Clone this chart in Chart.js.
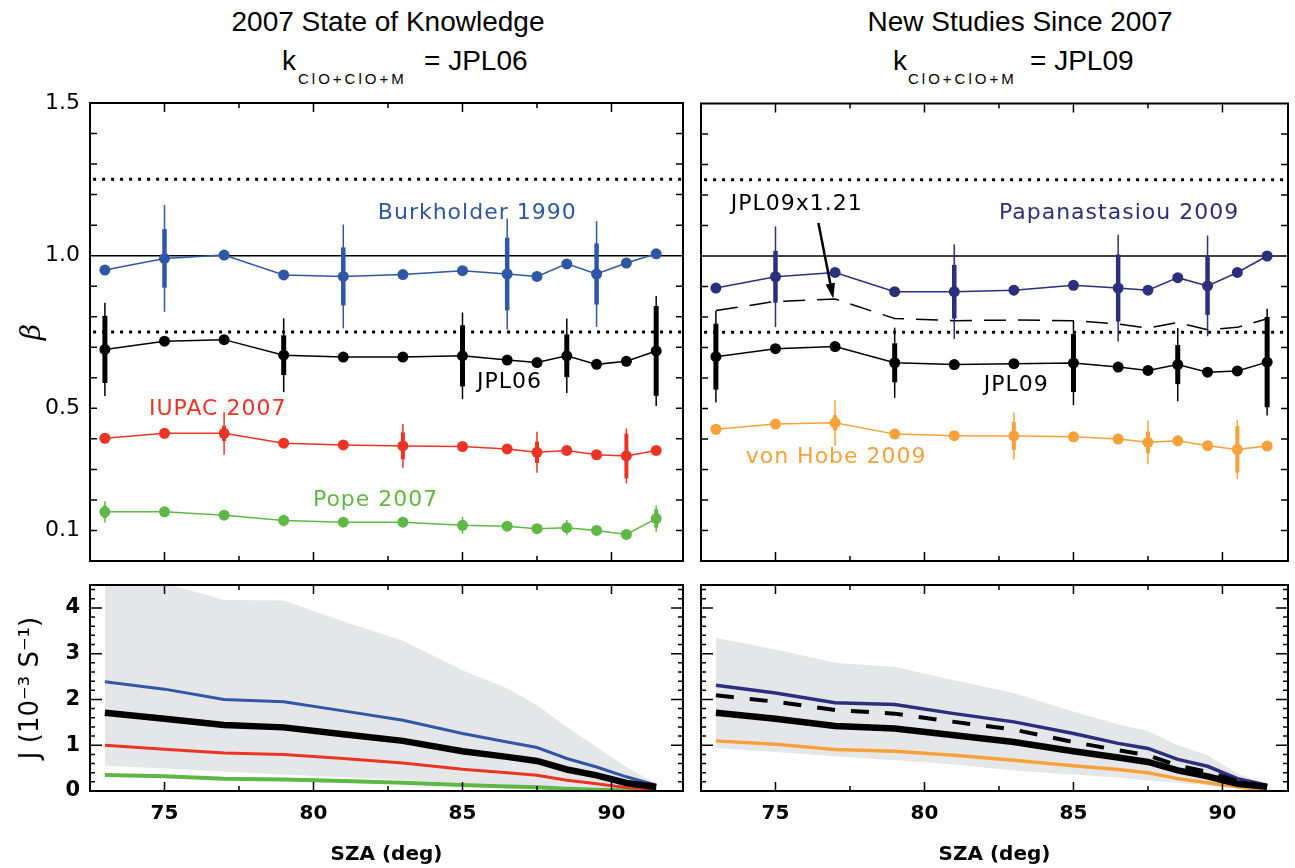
<!DOCTYPE html>
<html>
<head>
<meta charset="utf-8">
<script src="https://cdn.jsdelivr.net/npm/chart.js@4.4.0/dist/chart.umd.min.js"></script>
<style>
body { margin: 0; background: #fff; width: 1295px; height: 868px; position: relative; overflow: hidden; font-family: "Liberation Sans", sans-serif; }
canvas { position: absolute; }
.t1 { position: absolute; top: 5px; font-size: 28px; line-height: 34px; white-space: nowrap; transform: translateX(-50%); }
.k { position: absolute; top: 44px; font-size: 28px; line-height: 34px; white-space: nowrap; }
.sub { position: absolute; top: 70px; font-size: 15px; line-height: 18px; letter-spacing: 3px; white-space: nowrap; }
</style>
</head>
<body>
<div class="t1" style="left:388px">2007 State of Knowledge</div>
<div class="k" style="left:282px">k</div><div class="sub" style="left:298px">ClO+ClO+M</div><div class="k" style="left:424px">= JPL06</div>
<div class="t1" style="left:1020px">New Studies Since 2007</div>
<div class="k" style="left:893px">k</div><div class="sub" style="left:908px">ClO+ClO+M</div><div class="k" style="left:1030px">= JPL09</div>

<canvas id="tl" width="693" height="483" style="left:0;top:85px"></canvas>
<canvas id="tr" width="602" height="470" style="left:693px;top:98px"></canvas>
<canvas id="bl" width="693" height="288" style="left:0;top:580px"></canvas>
<canvas id="br" width="602" height="288" style="left:693px;top:580px"></canvas>

<script>
// solar zenith angles shared by every series
const sza = [73, 75, 77, 79, 81, 83, 85, 86.5, 87.5, 88.5, 89.5, 90.5, 91.5];

// beta, left panel (JPL06 kinetics)
const bBurkholder = [0.953, 0.991, 1.002, 0.937, 0.932, 0.938, 0.951, 0.940, 0.932, 0.973, 0.940, 0.976, 1.006];
const bJPL06 = [0.693, 0.720, 0.725, 0.674, 0.668, 0.668, 0.672, 0.658, 0.650, 0.672, 0.644, 0.654, 0.688];
const bIUPAC = [0.402, 0.418, 0.418, 0.386, 0.380, 0.377, 0.375, 0.367, 0.356, 0.362, 0.348, 0.344, 0.362];
const bPope = [0.161, 0.161, 0.150, 0.133, 0.127, 0.127, 0.117, 0.114, 0.106, 0.109, 0.100, 0.087, 0.139];

// beta, right panel (JPL09 kinetics)
const bPapanastasiou = [0.895, 0.932, 0.946, 0.883, 0.883, 0.888, 0.904, 0.895, 0.888, 0.929, 0.902, 0.946, 1.000];
const bJPL09x121 = [0.821, 0.851, 0.859, 0.795, 0.788, 0.790, 0.788, 0.777, 0.764, 0.782, 0.758, 0.766, 0.794];
const bJPL09 = [0.670, 0.696, 0.703, 0.650, 0.644, 0.647, 0.649, 0.636, 0.625, 0.644, 0.619, 0.623, 0.652];
const bVonHobe = [0.432, 0.449, 0.453, 0.416, 0.411, 0.410, 0.407, 0.400, 0.389, 0.394, 0.378, 0.366, 0.377];

// error bar half widths (thin = outer, thick = inner), null = no bar
const eBurkholderThin = [null, 0.175, null, null, 0.170, null, null, 0.182, null, null, 0.173, null, null];
const eBurkholderThick = [null, 0.096, null, null, 0.095, null, null, 0.119, null, null, 0.100, null, null];
const eJPL06Thin = [0.153, null, null, 0.121, null, null, 0.142, null, null, 0.122, null, null, 0.180];
const eJPL06Thick = [0.110, null, null, 0.065, null, null, 0.100, null, null, 0.070, null, null, 0.147];
const eIUPACThin = [null, null, 0.070, null, null, 0.072, null, null, 0.067, null, null, 0.090, null];
const eIUPACThick = [null, null, 0.025, null, null, 0.044, null, null, 0.035, null, null, 0.073, null];
const ePopeThin = [0.035, null, null, 0.020, null, null, 0.028, null, null, 0.025, null, null, 0.043];
const ePopeThick = [0.020, null, null, 0.012, null, null, 0.015, null, null, 0.015, null, null, 0.030];
const ePapanastasiouThin = [null, 0.165, null, null, 0.155, null, null, 0.175, null, null, 0.165, null, null];
const ePapanastasiouThick = [null, 0.085, null, null, 0.088, null, null, 0.110, null, null, 0.095, null, null];
const eJPL09Thin = [0.150, null, null, 0.115, null, null, 0.138, null, null, 0.120, null, null, 0.175];
const eJPL09Thick = [0.108, null, null, 0.064, null, null, 0.095, null, null, 0.064, null, null, 0.148];
const eVonHobeThin = [null, null, 0.074, null, null, 0.077, null, null, 0.072, null, null, 0.097, null];
const eVonHobeThick = [null, null, 0.025, null, null, 0.046, null, null, 0.035, null, null, 0.076, null];

// J (10^-3 s^-1), left panel
const jBandHiL = [4.90, 4.54, 4.17, 4.16, 3.70, 3.28, 2.64, 2.24, 1.875, 1.40, 0.96, 0.525, 0.16];
const jBandLoL = [0.55, 0.49, 0.42, 0.36, 0.30, 0.24, 0.17, 0.13, 0.10, 0.07, 0.05, 0.03, 0.01];
const jBurkholder = [2.385, 2.225, 2.00, 1.95, 1.75, 1.547, 1.255, 1.07, 0.95, 0.71, 0.525, 0.31, 0.125];
const jJPL06 = [1.71, 1.58, 1.44, 1.39, 1.24, 1.095, 0.87, 0.745, 0.657, 0.47, 0.343, 0.175, 0.088];
const jIUPAC = [1.00, 0.91, 0.83, 0.795, 0.71, 0.61, 0.475, 0.40, 0.343, 0.234, 0.16, 0.074, 0.037];
const jPope = [0.35, 0.32, 0.27, 0.25, 0.22, 0.18, 0.13, 0.10, 0.08, 0.05, 0.03, 0.015, 0.01];

// J, right panel
const jBandHiR = [3.35, 3.09, 2.80, 2.71, 2.42, 2.14, 1.73, 1.46, 1.31, 1.00, 0.78, 0.38, 0.147];
const jBandLoR = [0.94, 0.85, 0.76, 0.67, 0.58, 0.45, 0.36, 0.29, 0.23, 0.18, 0.125, 0.05, 0.02];
const jPapanastasiou = [2.31, 2.14, 1.93, 1.89, 1.69, 1.51, 1.255, 1.04, 0.93, 0.69, 0.54, 0.27, 0.125];
const jJPL09x121 = [2.09, 1.95, 1.77, 1.69, 1.51, 1.34, 1.07, 0.89, 0.78, 0.56, 0.415, 0.22, 0.09];
const jJPL09 = [1.71, 1.58, 1.42, 1.365, 1.22, 1.07, 0.87, 0.73, 0.635, 0.45, 0.32, 0.16, 0.09];
const jVonHobe = [1.095, 1.02, 0.905, 0.87, 0.78, 0.67, 0.55, 0.47, 0.40, 0.27, 0.18, 0.09, 0.015];

// axis ticks
const xLabelTicks = [75, 80, 85, 90];
const xMinorTicks = [77.5, 82.5, 87.5];
const betaLabelTicks = [0.1, 0.5, 1.0, 1.5];
const betaMinorTicks = [0.1, 0.2, 0.3, 0.4, 0.5, 0.6, 0.7, 0.8, 0.9, 1.1, 1.2, 1.3, 1.4];
const jLabelTicks = [0, 1, 2, 3, 4];
const jMajorTicks = [1, 2, 3, 4];
const jMinorTicks = [0.2, 0.4, 0.6, 0.8, 1.2, 1.4, 1.6, 1.8, 2.2, 2.4, 2.6, 2.8, 3.2, 3.4, 3.6, 3.8, 4.2, 4.4];
const refLevels = [1.25, 0.75];

const BLUE = '#2f57a5', RED = '#eb3424', GREEN = '#5fb845', NAVY = '#2b2f7e', ORANGE = '#f7a13a', BAND = '#e5e6e8';
const LABEL_FONT = '22px "DejaVu Sans"';

const pts = (ys) => sza.map((x, i) => ({x: x, y: ys[i]}));

/** frame round the plot area with inward tick marks on all four sides */
const framePlugin = {
	id: 'frame',
	afterDraw(chart, args, opts) {
		const {ctx, chartArea: a, scales: {x, y}} = chart;
		ctx.save();
		ctx.strokeStyle = '#000';
		ctx.lineWidth = 1.5;
		ctx.beginPath();
		opts.xTicks.forEach(([v, len]) => {
			const px = x.getPixelForValue(v);
			ctx.moveTo(px, a.bottom); ctx.lineTo(px, a.bottom - len);
			ctx.moveTo(px, a.top); ctx.lineTo(px, a.top + len);
		});
		opts.yTicks.forEach(([v, len]) => {
			const py = y.getPixelForValue(v);
			ctx.moveTo(a.left, py); ctx.lineTo(a.left + len, py);
			ctx.moveTo(a.right, py); ctx.lineTo(a.right - len, py);
		});
		ctx.stroke();
		ctx.lineWidth = 2;
		ctx.strokeRect(a.left, a.top, a.right - a.left, a.bottom - a.top);
		ctx.restore();
	}
};

/** thin and thick vertical error bars for any dataset carrying errThin / errThick */
const errorPlugin = {
	id: 'errorBars',
	afterDatasetsDraw(chart) {
		const {ctx, scales: {x, y}} = chart;
		ctx.save();
		ctx.lineCap = 'butt';
		chart.data.datasets.forEach(ds => {
			if (!ds.errThin) return;
			ctx.strokeStyle = ds.borderColor;
			ds.data.forEach((p, i) => {
				const px = x.getPixelForValue(p.x);
				[[ds.errThin[i], 1.5], [ds.errThick[i], ds.thickWidth]].forEach(([e, w]) => {
					if (e == null) return;
					ctx.lineWidth = w;
					ctx.beginPath();
					ctx.moveTo(px, y.getPixelForValue(p.y - e));
					ctx.lineTo(px, y.getPixelForValue(p.y + e));
					ctx.stroke();
				});
			});
		});
		ctx.restore();
	}
};

/** series names written inside the panels, plus the arrow */
const notesPlugin = {
	id: 'notes',
	afterDraw(chart, args, opts) {
		const {ctx, scales: {x, y}} = chart;
		ctx.save();
		ctx.font = LABEL_FONT;
		ctx.letterSpacing = '1px';
		ctx.textAlign = 'left';
		ctx.textBaseline = 'middle';
		(opts.items || []).forEach(n => {
			ctx.fillStyle = n.color;
			ctx.fillText(n.text, x.getPixelForValue(n.x), y.getPixelForValue(n.y));
		});
		if (opts.arrow) {
			const ar = opts.arrow;
			const x0 = x.getPixelForValue(ar.from[0]), y0 = y.getPixelForValue(ar.from[1]);
			const x1 = x.getPixelForValue(ar.to[0]), y1 = y.getPixelForValue(ar.to[1]);
			const ang = Math.atan2(y1 - y0, x1 - x0);
			ctx.strokeStyle = '#000'; ctx.fillStyle = '#000'; ctx.lineWidth = 2.5;
			ctx.beginPath(); ctx.moveTo(x0, y0);
			ctx.lineTo(x1 - 12 * Math.cos(ang), y1 - 12 * Math.sin(ang)); ctx.stroke();
			ctx.beginPath(); ctx.moveTo(x1, y1);
			ctx.lineTo(x1 - 16 * Math.cos(ang - 0.3), y1 - 16 * Math.sin(ang - 0.3));
			ctx.lineTo(x1 - 16 * Math.cos(ang + 0.3), y1 - 16 * Math.sin(ang + 0.3));
			ctx.closePath(); ctx.fill();
		}
		ctx.restore();
	}
};

function betaSeries(ys, color, thin, thick, thickW) {
	return {data: pts(ys), borderColor: color, backgroundColor: color, borderWidth: 1.5,
		pointRadius: 5.5, pointBorderWidth: 0, errThin: thin, errThick: thick, thickWidth: thickW};
}
function refLine(v, dashed) {
	return {data: [{x: 72, y: v}, {x: 93, y: v}], borderColor: '#000', borderWidth: dashed ? 3 : 1.5,
		borderDash: dashed ? [3, 6] : [], pointRadius: 0};
}
function jLine(ys, color, w, dash) {
	return {data: pts(ys), borderColor: color, borderWidth: w, borderDash: dash || [], pointRadius: 0, fill: false};
}
function band(hi, lo) {
	return [
		{data: pts(hi), borderWidth: 0, pointRadius: 0, backgroundColor: BAND, fill: '+1'},
		{data: pts(lo), borderWidth: 0, pointRadius: 0, fill: false}
	];
}

function panel(id, o) {
	const xTicks = xLabelTicks.map(v => [v, 9]).concat(xMinorTicks.map(v => [v, 5]));
	// draw in array order: first dataset at the back
	o.datasets.forEach((d, i) => { d.order = o.datasets.length - i; });
	new Chart(document.getElementById(id), {
		type: 'line',
		data: {datasets: o.datasets},
		plugins: [framePlugin, errorPlugin, notesPlugin],
		options: {
			responsive: false, animation: false, events: [],
			layout: {padding: o.padding},
			plugins: {
				legend: {display: false}, tooltip: {enabled: false},
				frame: {xTicks: xTicks, yTicks: o.yTicks},
				notes: o.notes || {}
			},
			scales: {
				x: {
					type: 'linear', min: 72.5, max: o.xmax, display: o.xLabels,
					grid: {display: false, drawTicks: false}, border: {display: false},
					afterBuildTicks: s => { s.ticks = xLabelTicks.map(v => ({value: v})); },
					afterFit: s => { s.height = o.xLabels ? 77 : 0; s.paddingLeft = 0; s.paddingRight = 0; },
					ticks: {padding: 11, color: '#000', font: {family: 'DejaVu Sans', size: 20, weight: 'bold'}},
					title: {display: true, text: 'SZA (deg)', color: '#000', padding: {bottom: 1},
						font: {family: 'DejaVu Sans', size: 20, weight: 'bold'}}
				},
				y: {
					min: o.ymin, max: o.ymax, display: o.yLabels,
					grid: {display: false, drawTicks: false}, border: {display: false},
					afterBuildTicks: s => { s.ticks = o.yLabelTicks.map(v => ({value: v})); },
					afterFit: s => { s.width = o.yLabels ? 90 : 0; s.paddingTop = 0; s.paddingBottom = 0; },
					ticks: {padding: 10, color: '#000', font: o.yFont, callback: o.yFormat},
					title: {display: true, text: o.yTitle, color: '#000', padding: {top: o.yTitlePad}, font: o.yTitleFont}
				}
			}
		}
	});
}

const betaTicks = betaMinorTicks.map(v => [v, 7]);
const jTicks = jMajorTicks.map(v => [v, 12]).concat(jMinorTicks.map(v => [v, 5]));

// top left: 2007 state of knowledge
panel('tl', {
	padding: {top: 18, right: 10, bottom: 7, left: 0}, xmax: 92.4, xLabels: false,
	ymin: 0, ymax: 1.5, yLabels: true, yLabelTicks: betaLabelTicks, yTicks: betaTicks,
	yFont: {family: 'DejaVu Sans', size: 22}, yFormat: v => v.toFixed(1),
	yTitle: 'β', yTitlePad: 16, yTitleFont: {family: 'DejaVu Serif', size: 28, style: 'italic'},
	datasets: [
		refLine(refLevels[0], true), refLine(refLevels[1], true), refLine(1.0, false),
		betaSeries(bBurkholder, BLUE, eBurkholderThin, eBurkholderThick, 4.5),
		betaSeries(bJPL06, '#000', eJPL06Thin, eJPL06Thick, 5),
		betaSeries(bIUPAC, RED, eIUPACThin, eIUPACThick, 4),
		betaSeries(bPope, GREEN, ePopeThin, ePopeThick, 4)
	],
	notes: {items: [
		{text: 'Burkholder 1990', x: 82.16, y: 1.14, color: BLUE},
		{text: 'JPL06', x: 85.49, y: 0.586, color: '#000'},
		{text: 'IUPAC 2007', x: 74.48, y: 0.498, color: RED},
		{text: 'Pope 2007', x: 79.98, y: 0.198, color: GREEN}
	]}
});

// top right: new studies since 2007
panel('tr', {
	padding: {top: 5, right: 7, bottom: 7, left: 8}, xmax: 92.2, xLabels: false,
	ymin: 0, ymax: 1.5, yLabels: false, yLabelTicks: betaLabelTicks, yTicks: betaTicks,
	datasets: [
		refLine(refLevels[0], true), refLine(refLevels[1], true), refLine(1.0, false),
		{data: pts(bJPL09x121), borderColor: '#000', borderWidth: 1.5, borderDash: [22, 12], pointRadius: 0},
		betaSeries(bPapanastasiou, NAVY, ePapanastasiouThin, ePapanastasiouThick, 4.5),
		betaSeries(bJPL09, '#000', eJPL09Thin, eJPL09Thick, 5),
		betaSeries(bVonHobe, ORANGE, eVonHobeThin, eVonHobeThick, 4)
	],
	notes: {
		items: [
			{text: 'JPL09x1.21', x: 73.5, y: 1.17, color: '#000'},
			{text: 'Papanastasiou 2009', x: 82.5, y: 1.14, color: NAVY},
			{text: 'JPL09', x: 81.99, y: 0.576, color: '#000'},
			{text: 'von Hobe 2009', x: 74.0, y: 0.341, color: ORANGE}
		],
		arrow: {from: [76.44, 1.108], to: [76.94, 0.86]}
	}
});

// bottom left: photolysis rates
panel('bl', {
	padding: {top: 5, right: 10, bottom: 0, left: 0}, xmax: 92.4, xLabels: true,
	ymin: 0, ymax: 4.5, yLabels: true, yLabelTicks: jLabelTicks, yTicks: jTicks,
	yFont: {family: 'DejaVu Sans', size: 21, weight: 'bold'}, yFormat: v => String(v),
	yTitle: 'J (10⁻³ S⁻¹)', yTitlePad: 16, yTitleFont: {family: 'DejaVu Sans', size: 26},
	datasets: band(jBandHiL, jBandLoL).concat([
		jLine(jPope, GREEN, 4), jLine(jIUPAC, RED, 3), jLine(jBurkholder, BLUE, 3), jLine(jJPL06, '#000', 6.5)
	])
});

// bottom right
panel('br', {
	padding: {top: 5, right: 7, bottom: 0, left: 8}, xmax: 92.2, xLabels: true,
	ymin: 0, ymax: 4.5, yLabels: false, yLabelTicks: jLabelTicks, yTicks: jTicks,
	datasets: band(jBandHiR, jBandLoR).concat([
		jLine(jVonHobe, ORANGE, 3.5), jLine(jPapanastasiou, NAVY, 3.5),
		jLine(jJPL09x121, '#000', 4, [18, 16]), jLine(jJPL09, '#000', 6.5)
	])
});
</script>
</body>
</html>
